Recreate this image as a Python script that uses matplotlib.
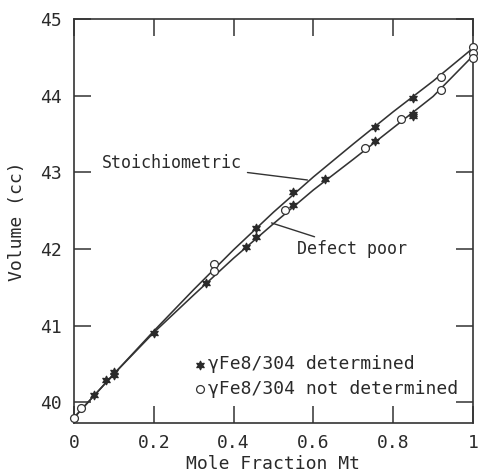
import matplotlib
matplotlib.use("Agg")
import matplotlib.pyplot as plt

# Data
line_x = [0.0, 0.1, 0.2, 0.3, 0.4, 0.5, 0.6, 0.7, 0.8, 0.9, 1.0]
stoich_v = [39.80, 40.37, 40.93, 41.47, 41.99, 42.48, 42.94, 43.37, 43.79, 44.19, 44.62]
defect_v = [39.80, 40.37, 40.91, 41.40, 41.88, 42.33, 42.77, 43.17, 43.58, 43.99, 44.52]

det_x = [0.05, 0.08, 0.10, 0.10, 0.20, 0.33, 0.43, 0.455, 0.455, 0.55, 0.55, 0.63, 0.755, 0.755, 0.85, 0.85, 0.85]
det_v = [40.09, 40.29, 40.39, 40.36, 40.91, 41.55, 42.02, 42.27, 42.15, 42.57, 42.74, 42.91, 43.41, 43.59, 43.97, 43.76, 43.73]

nd_x = [0.0, 0.018, 0.35, 0.35, 0.53, 0.73, 0.82, 0.92, 0.92, 1.0, 1.0, 1.0]
nd_v = [39.80, 39.92, 41.81, 41.71, 42.51, 43.32, 43.69, 44.24, 44.07, 44.63, 44.56, 44.49]

xticks = [0, 0.2, 0.4, 0.6, 0.8, 1]
xticklabels = ["0", "0.2", "0.4", "0.6", "0.8", "1"]
yticks = [40, 41, 42, 43, 44, 45]

mono = "DejaVu Sans Mono"
ink = "#333333"
txt = "#2a2a2a"

fig = plt.figure(figsize=(4.78, 4.72), dpi=100)
ax = fig.add_axes([74/478, 1-423/472, (473-74)/478, (423-19)/472])

ax.plot(line_x, stoich_v, color=ink, lw=1.15, zorder=2)
ax.plot(line_x, defect_v, color=ink, lw=1.15, zorder=2)

star = (6, 1, 0)
ax.scatter(det_x, det_v, marker=star, s=36, color="#2a2a2a", zorder=3, clip_on=False,
           label="\u03b3Fe8/304 determined")
ax.scatter(nd_x, nd_v, marker="o", s=32, facecolors="white", edgecolors=ink, linewidths=0.9,
           zorder=4, clip_on=False, label="\u03b3Fe8/304 not determined")

ax.set_xlim(0, 1)
ax.set_ylim(39.73, 45)
ax.set_xticks(xticks)
ax.set_xticklabels(xticklabels)
ax.set_yticks(yticks)
ax.tick_params(direction="in", length=12, width=1.1, color=ink, top=True, right=True,
               labelsize=13, labelcolor=txt)
ax.tick_params(axis="x", pad=8)
ax.tick_params(axis="y", pad=9)
for lab in ax.get_xticklabels() + ax.get_yticklabels():
    lab.set_family(mono)
for s in ax.spines.values():
    s.set_color(ink)
    s.set_linewidth(1.2)

ax.set_xlabel("Mole Fraction Mt", family=mono, fontsize=13, color=txt, labelpad=2)
ax.set_ylabel("Volume (cc)", family=mono, fontsize=13, color=txt, labelpad=10)

ax.annotate("Stoichiometric", xy=(0.585, 42.90), xytext=(0.07, 43.12),
            textcoords="data", family=mono, fontsize=12, color=txt,
            va="center", ha="left",
            arrowprops=dict(arrowstyle="-", color=ink, lw=1.0, shrinkA=2, shrinkB=0))
ax.annotate("Defect poor", xy=(0.495, 42.34), xytext=(0.56, 42.0),
            textcoords="data", family=mono, fontsize=12, color=txt,
            va="center", ha="left",
            arrowprops=dict(arrowstyle="-", color=ink, lw=1.0, shrinkA=1, shrinkB=0))

leg = ax.legend(loc="lower right", bbox_to_anchor=(0.98, 0.045), frameon=False,
                prop={"family": mono, "size": 13}, handletextpad=0.0,
                handlelength=0.9, labelspacing=0.35, borderaxespad=0)
for t in leg.get_texts():
    t.set_color(txt)

fig.savefig("out.png", dpi=100)
